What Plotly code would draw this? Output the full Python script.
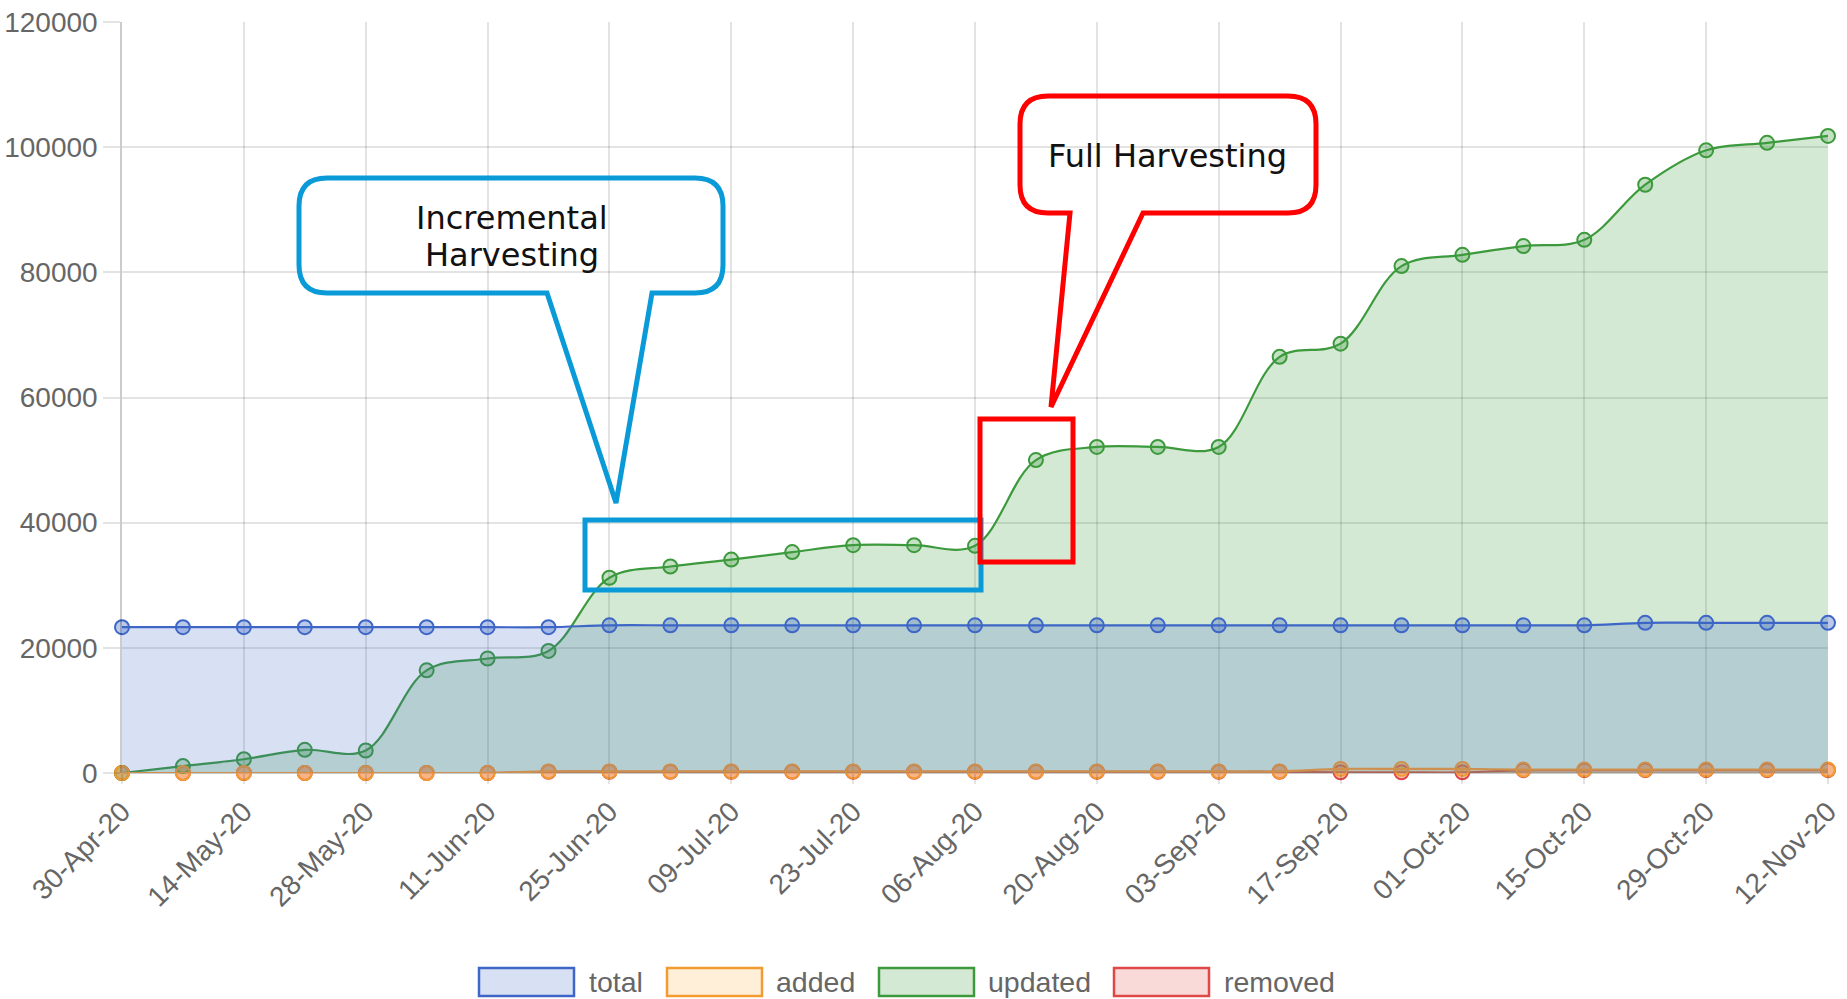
import plotly.graph_objects as go
from datetime import datetime

# ---------------- data ----------------
dates = ["2020-04-30", "2020-05-07", "2020-05-14", "2020-05-21", "2020-05-28",
         "2020-06-04", "2020-06-11", "2020-06-18", "2020-06-25", "2020-07-02",
         "2020-07-09", "2020-07-16", "2020-07-23", "2020-07-30", "2020-08-06",
         "2020-08-13", "2020-08-20", "2020-08-27", "2020-09-03", "2020-09-10",
         "2020-09-17", "2020-09-24", "2020-10-01", "2020-10-08", "2020-10-15",
         "2020-10-22", "2020-10-29", "2020-11-05", "2020-11-12"]

total = [23300, 23300, 23300, 23300, 23300, 23300, 23300, 23300, 23600, 23600,
         23600, 23600, 23600, 23600, 23600, 23600, 23600, 23600, 23600, 23600,
         23600, 23600, 23600, 23600, 23600, 24000, 24000, 24000, 24000]

added = [0, 0, 0, 0, 0, 0, 0, 250, 250, 250,
         250, 250, 250, 250, 250, 250, 250, 250, 250, 250,
         650, 650, 650, 550, 550, 550, 550, 550, 550]

updated = [0, 1100, 2200, 3700, 3600, 16400, 18300, 19500, 31200, 33000,
           34100, 35300, 36400, 36400, 36300, 50000, 52100, 52100, 52100, 66500,
           68600, 81000, 82800, 84200, 85200, 94000, 99500, 100700, 101800]

removed = [0, 0, 0, 0, 0, 0, 0, 200, 200, 200,
           200, 200, 200, 200, 200, 200, 200, 200, 200, 200,
           100, 100, 100, 450, 450, 450, 450, 450, 450]

series_names = ["total", "added", "updated", "removed"]
y_ticks = [0, 20000, 40000, 60000, 80000, 100000, 120000]

# ---------------- style ----------------
COL = {
    "total": ("#3d66c6", "rgba(61,102,198,0.20)", "rgba(61,102,198,0.35)"),
    "added": ("#f29b30", "rgba(255,160,40,0.18)", "rgba(255,160,40,0.35)"),
    "updated": ("#3c9a3c", "rgba(60,154,60,0.22)", "rgba(60,154,60,0.30)"),
    "removed": ("#e04848", "rgba(225,70,60,0.20)", "rgba(225,70,60,0.35)"),
}
data = {"total": total, "added": added, "updated": updated, "removed": removed}

W, H = 1847, 999
L, R, T, B = 122, 19, 22, 226
PW, PH = W - L - R, H - T - B


def px(x):  # page pixel -> paper x
    return (x - L) / PW


def py(y):  # page pixel -> paper y
    return (H - B - y) / PH


fig = go.Figure()
for name in ["removed", "updated", "added", "total"]:
    line_c, fill_c, mark_c = COL[name]
    fig.add_trace(go.Scatter(
        x=dates, y=data[name], name=name, mode="lines+markers",
        line=dict(color=line_c, width=2.2, shape="spline", smoothing=1.0),
        fill="tozeroy", fillcolor=fill_c,
        marker=dict(size=14, color=mark_c, line=dict(color=line_c, width=2)),
        cliponaxis=False, hoverinfo="skip", showlegend=False,
    ))

tick_dates = dates[::2]
tick_text = [datetime.strptime(d, "%Y-%m-%d").strftime("%d-%b-%y") for d in tick_dates]

grid = "rgba(0,0,0,0.11)"
TICKFONT = dict(size=28, color="#666666", family="Liberation Sans, Arial, sans-serif")
fig.update_layout(
    template="none",
    width=W, height=H,
    margin=dict(l=L, r=R, t=T, b=B, autoexpand=False),
    paper_bgcolor="white", plot_bgcolor="white",
    showlegend=False,
    font=dict(family="Liberation Sans, Arial, sans-serif", color="#666666", size=28),
    xaxis=dict(
        type="date", range=[dates[0], dates[-1]],
        tickvals=tick_dates, ticktext=tick_text, tickangle=-45,
        showgrid=True, gridcolor=grid, gridwidth=1.5,
        ticks="outside", ticklen=10, tickcolor=grid, tickwidth=1.5,
        showline=False, zeroline=False, automargin=False,
        ticklabeloverflow="allow",
        tickfont=TICKFONT,
    ),
    yaxis=dict(
        range=[0, 120000], tickvals=y_ticks, tickformat="d",
        showgrid=True, gridcolor=grid, gridwidth=1.5,
        ticks="outside", ticklen=17, tickcolor=grid, tickwidth=1.5,
        showline=True, linecolor="rgba(0,0,0,0.2)", linewidth=1.5,
        zeroline=True, zerolinecolor="rgba(0,0,0,0.2)", zerolinewidth=1.5,
        automargin=False, ticklabeloverflow="allow",
        tickfont=TICKFONT,
    ),
)

shapes = []
annotations = []

# ---------- custom legend ----------
leg_boxes = {"total": (479, 587), "added": (667, 774), "updated": (879, 986), "removed": (1114, 1222)}
for name in series_names:
    bx, tx = leg_boxes[name]
    line_c, fill_c, _ = COL[name]
    shapes.append(dict(type="rect", xref="paper", yref="paper",
                       x0=px(bx), x1=px(bx + 95), y0=py(996), y1=py(968),
                       line=dict(color=line_c, width=2.5), fillcolor=fill_c, layer="above"))
    annotations.append(dict(xref="paper", yref="paper", x=px(tx), y=py(982),
                            text=name, showarrow=False, xanchor="left", yanchor="middle",
                            font=dict(size=28.5, color="#666666",
                                      family="Liberation Sans, Arial, sans-serif")))


# ---------- callouts ----------
def callout_path(x0, y0, x1, y1, r, base_l, base_r, tip):
    pts = [
        f"M{px(x0 + r)},{py(y0)}",
        f"L{px(x1 - r)},{py(y0)}",
        f"Q{px(x1)},{py(y0)} {px(x1)},{py(y0 + r)}",
        f"L{px(x1)},{py(y1 - r)}",
        f"Q{px(x1)},{py(y1)} {px(x1 - r)},{py(y1)}",
        f"L{px(base_r)},{py(y1)}",
        f"L{px(tip[0])},{py(tip[1])}",
        f"L{px(base_l)},{py(y1)}",
        f"L{px(x0 + r)},{py(y1)}",
        f"Q{px(x0)},{py(y1)} {px(x0)},{py(y1 - r)}",
        f"L{px(x0)},{py(y0 + r)}",
        f"Q{px(x0)},{py(y0)} {px(x0 + r)},{py(y0)}",
        "Z",
    ]
    return " ".join(pts)


BLUE = "#0a9ad8"
RED = "#ff0000"
shapes.append(dict(type="path", xref="paper", yref="paper",
                   path=callout_path(299, 178, 723, 293, 28, 547, 652, (616, 503)),
                   line=dict(color=BLUE, width=5), layer="above"))
shapes.append(dict(type="path", xref="paper", yref="paper",
                   path=callout_path(1020, 96, 1316, 213, 28, 1070, 1143, (1051, 407)),
                   line=dict(color=RED, width=5), layer="above"))
shapes.append(dict(type="rect", xref="paper", yref="paper",
                   x0=px(585), x1=px(981), y0=py(590), y1=py(520),
                   line=dict(color=BLUE, width=5), layer="above"))
shapes.append(dict(type="rect", xref="paper", yref="paper",
                   x0=px(980), x1=px(1073), y0=py(562), y1=py(419),
                   line=dict(color=RED, width=5), layer="above"))

CALLFONT = dict(family="DejaVu Sans, Verdana, sans-serif", size=32, color="#111111")
for txt, yy in [("Incremental", 218), ("Harvesting", 255)]:
    annotations.append(dict(xref="paper", yref="paper", x=px(512), y=py(yy),
                            text=txt, showarrow=False,
                            xanchor="center", yanchor="middle", font=CALLFONT))
annotations.append(dict(xref="paper", yref="paper", x=px(1167), y=py(156),
                        text="Full Harvesting", showarrow=False,
                        xanchor="center", yanchor="middle", font=CALLFONT))

fig.update_layout(shapes=shapes, annotations=annotations)
fig.write_html("out.html",
               config={"displayModeBar": False},
               post_script="document.body.style.margin='0px';document.body.style.overflow='hidden';")
